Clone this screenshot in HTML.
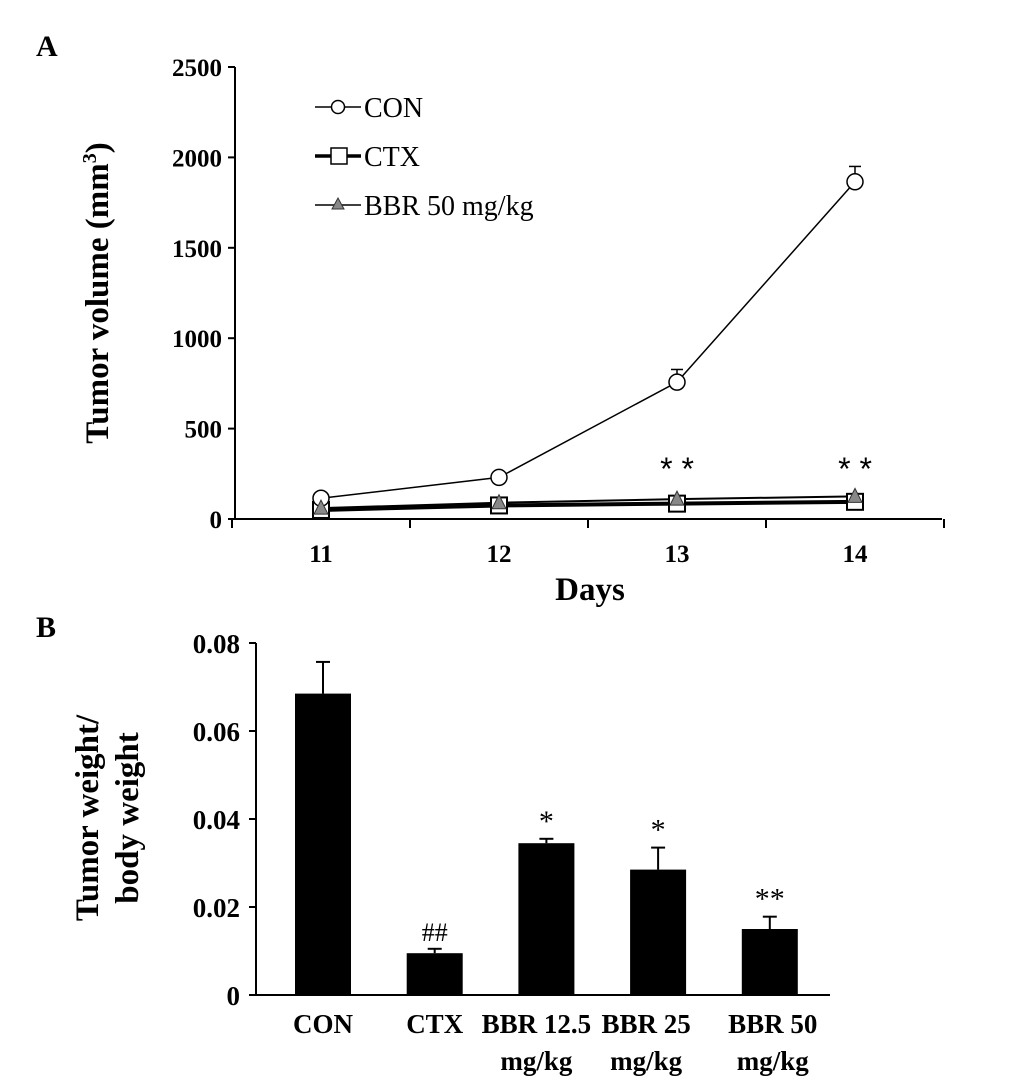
<!DOCTYPE html>
<html><head><meta charset="utf-8"><style>
body{margin:0;background:#fff;}
svg{display:block;font-family:"Liberation Serif",serif;}
</style></head><body>
<svg id="chart" width="1033" height="1089" viewBox="0 0 1033 1089" xmlns="http://www.w3.org/2000/svg">
<text x="36" y="56" font-size="30" font-weight="bold">A</text>
<text x="36" y="637" font-size="30" font-weight="bold">B</text>
<g id="pa"></g>
<g id="pb"></g>
</svg>
<script>
const days=["11","12","13","14"];
const conVals=[115,230,757,1865];
const conErr=[0,15,70,85];
const ctxVals=[50,75,85,95];
const bbrVals=[60,90,110,125];
const aTicks=[0,500,1000,1500,2000,2500];
const aSig=["","","**","**"];
const groups=["CON","CTX","BBR 12.5|mg/kg","BBR 25|mg/kg","BBR 50|mg/kg"];
const bVals=[0.0685,0.0095,0.0345,0.0285,0.015];
const bErr=[0.0072,0.001,0.001,0.005,0.0028];
const bSig=["","##","*","*","**"];
const bTicks=[0,0.02,0.04,0.06,0.08];
const bTickLabels=["0","0.02","0.04","0.06","0.08"];

const NS="http://www.w3.org/2000/svg";
function mk(p,t,a,txt){const e=document.createElementNS(NS,t);for(const k in a)e.setAttribute(k,a[k]);if(txt!=null)e.textContent=txt;p.appendChild(e);return e;}

// Panel A
const pa=document.getElementById('pa');
const ay=v=>519-v*(519-67)/2500;
const ax=i=>232+178*(i+0.5);
let e=mk(pa,'line',{x1:235,y1:67,x2:235,y2:519,stroke:'#000','stroke-width':2});

e=mk(pa,'line',{x1:235,y1:519,x2:942,y2:519,stroke:'#000','stroke-width':2});

aTicks.forEach(t=>{mk(pa,'line',{x1:228,y1:ay(t),x2:235,y2:ay(t),stroke:'#000','stroke-width':2});
e=mk(pa,'text',{x:222,y:ay(t)+9,'font-size':25,'font-weight':'bold','text-anchor':'end'},String(t));
});
for(let i=0;i<=days.length;i++){const x=232+178*i;mk(pa,'line',{x1:x,y1:519,x2:x,y2:528,stroke:'#000','stroke-width':2});}
days.forEach((d,i)=>{e=mk(pa,'text',{x:ax(i),y:562,'font-size':25,'font-weight':'bold','text-anchor':'middle'},d);
});
e=mk(pa,'text',{x:590,y:600,'font-size':33,'font-weight':'bold','text-anchor':'middle'},'Days');

e=mk(pa,'text',{x:0,y:0,'font-size':33,'font-weight':'bold','text-anchor':'middle',transform:'translate(108,293) rotate(-90)'});
e.innerHTML='Tumor volume (mm<tspan font-size="20" dy="-12">3</tspan><tspan dy="12">)</tspan>';

function line(vals,w,name){const pts=vals.map((v,i)=>ax(i)+','+ay(v)).join(' ');
const l=mk(pa,'polyline',{points:pts,fill:'none',stroke:'#000','stroke-width':w});
}
line(ctxVals,4,'ctx-line');line(bbrVals,2,'bbr-line');line(conVals,1.5,'con-line');
conVals.forEach((v,i)=>{if(conErr[i]){const y=ay(v),y2=ay(v+conErr[i]);mk(pa,'line',{x1:ax(i),y1:y,x2:ax(i),y2:y2,stroke:'#000','stroke-width':1.5});mk(pa,'line',{x1:ax(i)-6,y1:y2,x2:ax(i)+6,y2:y2,stroke:'#000','stroke-width':1.5});}});
ctxVals.forEach((v,i)=>{e=mk(pa,'rect',{x:ax(i)-8,y:ay(v)-8,width:16,height:16,fill:'#fff',stroke:'#000','stroke-width':2});
});
conVals.forEach((v,i)=>{e=mk(pa,'circle',{cx:ax(i),cy:ay(v),r:8,fill:'#fff',stroke:'#000','stroke-width':1.5});
});
bbrVals.forEach((v,i)=>{const x=ax(i),y=ay(v);e=mk(pa,'polygon',{points:`${x},${y-8} ${x-7},${y+6} ${x+7},${y+6}`,fill:'#888',stroke:'#333','stroke-width':1});
});
aSig.forEach((s,i)=>{if(s){e=mk(pa,'text',{x:ax(i),y:480,'font-size':32,'text-anchor':'middle','font-family':'Liberation Sans, sans-serif'},'* *');
}});
// legend
const leg=[["CON","c"],["CTX","s"],["BBR 50 mg/kg","t"]];
leg.forEach((l,i)=>{const y=107+49*i;const g=mk(pa,'g',{});

mk(g,'line',{x1:315,y1:y,x2:361,y2:y,stroke:'#000','stroke-width':l[1]=='s'?3.5:1.5});
if(l[1]=='c')mk(g,'circle',{cx:338,cy:y,r:6.5,fill:'#fff',stroke:'#000','stroke-width':1.5});
if(l[1]=='s')mk(g,'rect',{x:331,y:y-8,width:16,height:16,fill:'#fff',stroke:'#000','stroke-width':1.5});
if(l[1]=='t')mk(g,'polygon',{points:`338,${y-7} 332,${y+4} 344,${y+4}`,fill:'#888',stroke:'#333'});
mk(g,'text',{x:364,y:y+10,'font-size':28},l[0]);});

// Panel B
const pb=document.getElementById('pb');
const by=v=>995-v*(995-643)/0.08;
const bx=i=>323+111.7*i;
e=mk(pb,'line',{x1:256,y1:643,x2:256,y2:995,stroke:'#000','stroke-width':2});

e=mk(pb,'line',{x1:256,y1:995,x2:830,y2:995,stroke:'#000','stroke-width':2});

bTicks.forEach((t,i)=>{mk(pb,'line',{x1:249,y1:by(t),x2:256,y2:by(t),stroke:'#000','stroke-width':2});
e=mk(pb,'text',{x:240,y:by(t)+10,'font-size':27,'font-weight':'bold','text-anchor':'end'},bTickLabels[i]);
});
e=mk(pb,'text',{x:0,y:0,'font-size':33,'font-weight':'bold','text-anchor':'middle',transform:'translate(98,818) rotate(-90)'},'Tumor weight/');

e=mk(pb,'text',{x:0,y:0,'font-size':33,'font-weight':'bold','text-anchor':'middle',transform:'translate(138,818) rotate(-90)'},'body weight');

bVals.forEach((v,i)=>{const x=bx(i);
e=mk(pb,'rect',{x:x-28,y:by(v),width:56,height:995-by(v),fill:'#000'});

const ye=by(v+bErr[i]);mk(pb,'line',{x1:x,y1:by(v),x2:x,y2:ye,stroke:'#000','stroke-width':2});
mk(pb,'line',{x1:x-7,y1:ye,x2:x+7,y2:ye,stroke:'#000','stroke-width':2});
if(bSig[i]){e=mk(pb,'text',{x:x,y:ye-8,'font-size':bSig[i]=='##'?26:30,'text-anchor':'middle'},bSig[i]);
}
const parts=groups[i].split('|');
parts.forEach((p,j)=>{e=mk(pb,'text',{x:x+(parts.length>1?(i==2?-10:i==4?3:-12):0),y:1033+37*j,'font-size':27,'font-weight':'bold','text-anchor':'middle'},p);
});});
</script>
</body></html>
